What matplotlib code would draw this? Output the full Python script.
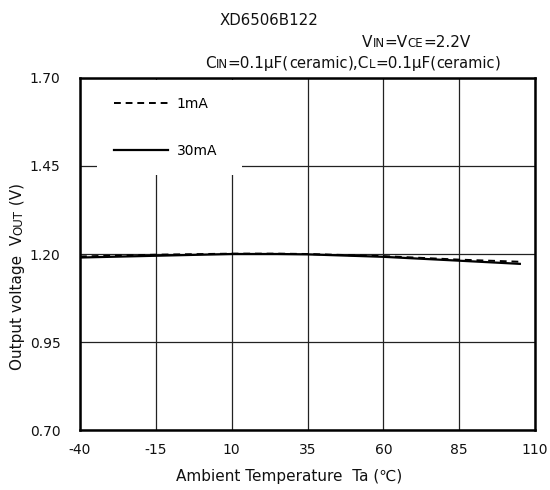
import matplotlib
matplotlib.use("Agg")
import matplotlib.pyplot as plt

plt.rcParams['font.family'] = ['DejaVu Sans']

# Output voltage vs. ambient temperature, two load currents
temps = [-40, -15, 10, 25, 35, 60, 85, 105]
vout_1ma = [1.193, 1.198, 1.201, 1.201, 1.200, 1.194, 1.184, 1.178]
vout_30ma = [1.190, 1.195, 1.200, 1.200, 1.199, 1.192, 1.181, 1.172]

x_ticks = [-40, -15, 10, 35, 60, 85, 110]
y_ticks = [0.70, 0.95, 1.20, 1.45, 1.70]

W, H = 550, 490
L, R, T, B = 80, 535, 78, 430
fig = plt.figure(figsize=(W / 100, H / 100), dpi=100)
ax = fig.add_axes([L / W, 1 - B / H, (R - L) / W, (B - T) / H])


def rich_text(x, y, parts, rotated=False):
    # draws text pieces of different size one after another on a shared baseline (pixel coords)
    renderer = fig.canvas.get_renderer()
    pos = x if not rotated else y
    for s, size in parts:
        if rotated:
            t = fig.text(x / W, 1 - pos / H, s, fontsize=size, rotation=90,
                         rotation_mode='anchor', ha='left', va='baseline', color='#111111')
            pos -= t.get_window_extent(renderer).height
        else:
            t = fig.text(pos / W, 1 - y / H, s, fontsize=size, ha='left', va='baseline',
                         color='#111111')
            pos += t.get_window_extent(renderer).width


ax.plot(temps, vout_1ma, color='black', lw=1.4, ls=(0, (3.5, 2.5)), label='1mA', zorder=3)
ax.plot(temps, vout_30ma, color='black', lw=1.6, label='30mA', zorder=3)

ax.set_xlim(-40, 110)
ax.set_ylim(0.70, 1.70)
ax.set_xticks(x_ticks)
ax.set_yticks(y_ticks)
ax.set_xticklabels([str(t) for t in x_ticks])
ax.set_yticklabels(['%.2f' % v for v in y_ticks])
ax.tick_params(length=0, labelsize=10, labelcolor='#111111')
ax.tick_params(axis='x', pad=9)
ax.tick_params(axis='y', pad=14)
ax.grid(True, color='#222222', lw=0.9)
ax.set_axisbelow(True)
for sp in ax.spines.values():
    sp.set_linewidth(1.8)
    sp.set_color('black')

# white legend panel that blanks out the grid in the upper-left corner
leg = ax.legend(loc='upper left', bbox_to_anchor=(0.037, 0, 0.32, 0.995), mode='expand',
                borderaxespad=0, frameon=True, fancybox=False, facecolor='white',
                edgecolor='none', framealpha=1, fontsize=10, handlelength=3.9,
                handletextpad=0.6, labelspacing=2.35, borderpad=1.25)

ax.set_xlabel('Ambient Temperature  Ta (\u2103)', fontsize=11, labelpad=9, color='#111111')
ax.xaxis.label.set_x(0.46)

fig.text(220 / W, 1 - 25 / H, 'XD6506B122', fontsize=10.8, ha='left', va='baseline',
         color='#111111')
rich_text(362, 47, [('V', 11), ('IN', 8.5), ('=V', 11), ('CE', 8.5), ('=2.2V', 11)])
rich_text(205, 68, [('C', 11), ('IN', 8.5), ('=0.1\u03bcF(', 11), ('ceramic', 10.5),
                    ('),C', 11), ('L', 8.5), ('=0.1\u03bcF(', 11), ('ceramic', 10.5), (')', 11)])
rich_text(22, 370, [('Output voltage  V', 11), ('OUT', 8.5), (' (V)', 11)], rotated=True)

fig.savefig('out.png', dpi=100)
